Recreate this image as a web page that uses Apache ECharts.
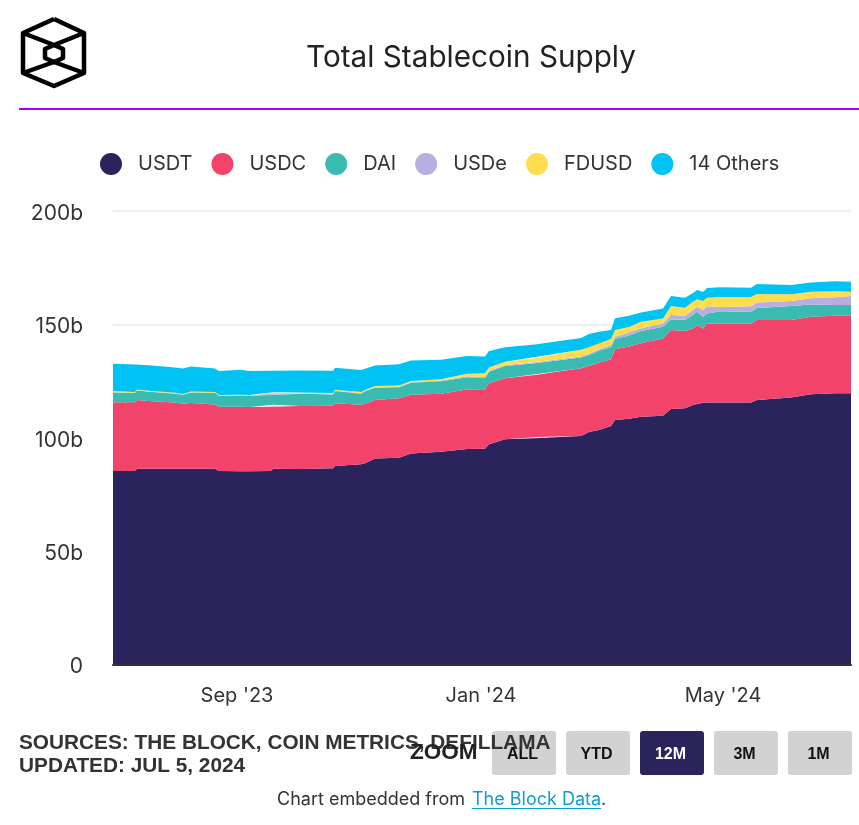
<!DOCTYPE html>
<html>
<head>
<meta charset="utf-8">
<style>html,body{margin:0;padding:0;background:#fff}#chart{width:859px;height:825px}</style>
<script src="https://cdn.jsdelivr.net/npm/echarts@6/dist/echarts.min.js"></script>
</head>
<body>
<div id="chart"></div>
<script>
const titleText = 'Total Stablecoin Supply';
const dates = ['2023-07-01','2023-07-12','2023-07-13','2023-07-19','2023-08-01','2023-08-05','2023-08-09','2023-08-21','2023-08-23','2023-09-03','2023-09-07','2023-09-18','2023-09-19','2023-10-03','2023-10-19','2023-10-20','2023-11-02','2023-11-04','2023-11-09','2023-11-21','2023-11-27','2023-12-12','2023-12-25','2024-01-03','2024-01-05','2024-01-13','2024-01-28','2024-01-29','2024-02-20','2024-02-24','2024-02-29','2024-03-06','2024-03-08','2024-03-15','2024-03-21','2024-04-01','2024-04-05','2024-04-12','2024-04-16','2024-04-18','2024-04-21','2024-04-23','2024-04-30','2024-05-15','2024-05-18','2024-06-04','2024-06-14','2024-06-26','2024-07-04'];
const usdt = [85.3,85.3,86.3,86.3,86.3,86.3,86.3,86.3,85.3,85.2,85.2,85.3,86.3,86.2,86.5,87.5,88.3,88.7,90.8,91.2,93.0,93.8,95.0,95.2,97.1,99.3,99.8,100.3,100.8,102.5,103.4,105.2,107.8,108.4,109.3,109.7,112.7,113.0,114.4,114.9,115.4,115.5,115.5,115.6,116.6,117.8,119.2,119.6,119.6];
const usdc = [30.4,30.4,30.3,29.9,29.3,28.7,29.0,28.4,28.4,28.5,28.4,28.4,28.2,27.8,27.6,27.7,26.2,26.3,25.9,26.2,26.0,25.6,26.3,26.2,26.9,26.9,27.9,27.8,29.9,29.1,29.7,29.4,31.2,31.8,32.4,34.1,34.8,34.1,33.8,34.8,32.8,34.9,34.9,34.8,35.3,34.1,34.2,34.2,34.2];
const dai = [4.3,4.1,4.3,4.1,3.8,4.0,4.7,5.1,4.7,4.9,4.9,5.2,5.2,5.4,5.0,5.4,4.9,5.5,5.3,4.9,5.3,5.5,5.4,5.0,5.1,5.4,5.2,5.0,4.7,4.9,5.3,5.3,4.5,4.9,5.4,5.1,4.7,4.9,5.9,5.9,5.1,4.4,5.4,5.1,5.3,6.2,5.4,4.7,4.7];
const usde = [0.1,0.1,0.1,0.1,0.1,0.1,0.1,0.1,0.1,0.1,0.1,0.1,0.1,0.1,0.1,0.1,0.2,0.2,0.2,0.2,0.2,0.3,0.4,0.3,0.4,0.4,0.4,0.4,0.4,0.6,0.6,1.0,1.0,1.3,1.2,1.5,1.9,1.8,2.2,2.2,3.0,3.2,1.9,2.5,2.5,2.2,2.7,3.5,4.0];
const fdusd = [0.5,0.3,0.3,0.3,0.3,0.2,0.3,0.3,0.3,0.3,0.3,0.3,0.3,0.5,0.5,0.5,0.6,0.4,0.6,0.5,0.5,0.6,1.1,1.8,1.5,1.5,1.8,2.2,3.0,2.8,2.6,2.6,3.0,2.4,2.9,2.2,4.0,3.5,3.7,3.3,4.0,3.7,4.4,4.1,3.7,3.0,2.9,2.6,1.9];
const others = [12.0,12.1,11.5,11.3,11.2,11.2,11.0,10.3,10.6,11.0,10.5,10.3,10.0,9.7,9.8,9.7,9.7,9.3,9.1,9.4,9.1,8.6,7.9,7.3,7.3,6.4,6.0,5.6,5.2,5.9,5.1,4.0,5.2,5.0,4.0,4.4,4.4,4.4,3.8,4.1,4.0,4.3,4.3,4.1,4.4,4.1,4.1,4.4,4.4];
const seriesNames = ['USDT','USDC','DAI','USDe','FDUSD','14 Others'];
const seriesColors = ['#2B235C','#F2436A','#3ABBB1','#B7AFE0','#FFDD4F','#00C3F3'];
const seriesValues = [usdt,usdc,dai,usde,fdusd,others];
const yTickLabels = {0:'0',50:'50b',100:'100b',150:'150b',200:'200b'};
const xTickDates = ['2023-09-01','2024-01-01','2024-05-01'];
const xTickLabels = ["Sep '23","Jan '24","May '24"];
const zoomButtons = ['ALL','YTD','12M','3M','1M'];
const activeButton = '12M';
const sourceLines = ['SOURCES: THE BLOCK, COIN METRICS, DEFILLAMA','UPDATED: JUL 5, 2024'];

const UI = 'Inter, "Noto Sans", sans-serif';
const ARIAL = '"Liberation Sans", Arial, sans-serif';
const ink = '#333333';
const stamp = s => new Date(s + 'T00:00:00').getTime();
const xTickStamps = xTickDates.map(stamp);

const logoPaths = [
  [[54,19],[84,33],[84,73],[54,86],[23,73],[23,33],[54,19]],
  [[23,33],[54,45],[84,33]],
  [[23,73],[54,62],[84,73]],
  [[54,45],[63,49],[63,58],[54,62],[45,58],[45,49],[54,45]]
];
const graphic = [];
logoPaths.forEach(points => graphic.push({type:'polyline',shape:{points},style:{stroke:'#000',lineWidth:4.5,fill:null,lineJoin:'round'}}));
graphic.push({type:'rect',shape:{x:19,y:108,width:840,height:2},style:{fill:'#A100F2'}});
zoomButtons.forEach((b,i) => {
  const on = b === activeButton, x = 492 + i*74;
  graphic.push({type:'rect',shape:{x,y:731,width:64,height:44,r:3},style:{fill:on?'#2B235C':'#D2D2D2'}});
  graphic.push({type:'text',x:x+30.5,y:755,style:{text:b,font:'bold 16px '+ARIAL,fill:on?'#fff':'#111',textAlign:'center',textVerticalAlign:'middle'}});
});
sourceLines.forEach((t,i) => graphic.push({type:'text',x:19,y:743+i*23,style:{text:t,font:'bold 20.8px '+ARIAL,fill:ink,textAlign:'left',textVerticalAlign:'middle'}}));
graphic.push({type:'text',x:410,y:753,style:{text:'ZOOM',font:'bold 22.5px '+ARIAL,fill:'#222',textAlign:'left',textVerticalAlign:'middle'}});
graphic.push({type:'text',x:277,y:800,style:{text:'Chart embedded from',font:'18px '+UI,fill:ink,textAlign:'left',textVerticalAlign:'middle'}});
graphic.push({type:'text',x:472,y:800,style:{text:'The Block Data',font:'18px '+UI,fill:'#0F9FCF',textAlign:'left',textVerticalAlign:'middle'}});
graphic.push({type:'rect',shape:{x:472,y:808,width:129,height:1},style:{fill:'#0F9FCF'}});
graphic.push({type:'text',x:601,y:800,style:{text:'.',font:'18px '+UI,fill:ink,textAlign:'left',textVerticalAlign:'middle'}});

const chart = echarts.init(document.getElementById('chart'),null,{renderer:'canvas'});
chart.setOption({
  animation:false,
  backgroundColor:'#fff',
  title:{text:titleText,left:466,top:38,textAlign:'center',textStyle:{fontFamily:UI,fontSize:29.7,fontWeight:400,color:'#222'}},
  color:seriesColors,
  legend:{left:95,top:148,icon:'circle',itemWidth:22,itemHeight:22,itemGap:19,selectedMode:false,
    textStyle:{fontFamily:UI,fontSize:20,color:ink,padding:[0,0,0,11]},data:seriesNames},
  grid:{left:113,right:8,top:211,height:453.5,containLabel:false},
  xAxis:{type:'time',min:stamp(dates[0]),max:stamp(dates[dates.length-1]),splitNumber:12,
    axisLine:{show:true,lineStyle:{color:ink,width:2}},axisTick:{show:false},splitLine:{show:false},
    axisLabel:{interval:0,hideOverlap:false,showMinLabel:false,showMaxLabel:false,margin:21,fontFamily:UI,fontSize:20,color:ink,
      formatter:v=>xTickLabels[xTickStamps.indexOf(+v)] ?? ''}},
  yAxis:{type:'value',min:0,max:200,interval:50,
    axisLine:{show:false},axisTick:{show:false},splitLine:{show:true,lineStyle:{color:'#EEEEEE',width:2}},
    axisLabel:{margin:30,formatter:v=>'{t|'+yTickLabels[v]+'}',
      rich:{t:{fontFamily:UI,fontSize:21,color:ink,padding:[5,0,0,0]}}}},
  series:seriesNames.map((name,i)=>({
    name,type:'line',stack:'supply',showSymbol:false,symbol:'none',smooth:false,
    lineStyle:{width:0},itemStyle:{color:seriesColors[i]},
    areaStyle:{color:seriesColors[i],opacity:1},
    data:dates.map((d,j)=>[d,seriesValues[i][j]])
  })),
  graphic:{elements:graphic}
});
</script>
</body>
</html>
